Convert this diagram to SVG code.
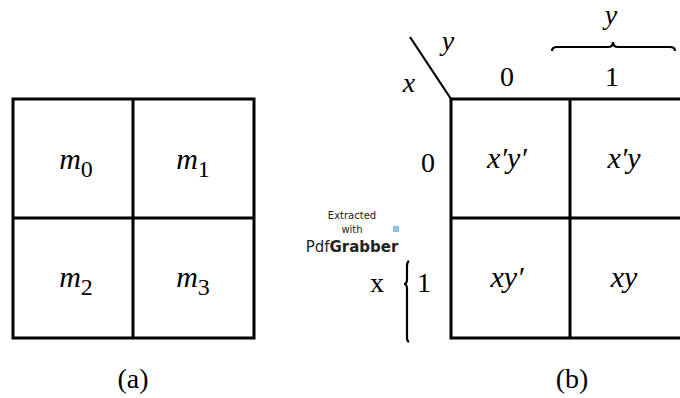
<svg xmlns="http://www.w3.org/2000/svg" width="680" height="398" viewBox="0 0 680 398">
<style>
.ln{stroke:#000;stroke-width:3;fill:none}
.thin{stroke:#000;stroke-width:2.2;fill:none}
.t{font-family:"Liberation Serif","Times New Roman",serif;fill:#000}
.i{font-style:italic}
.c{font-size:30px;text-anchor:middle}
.l{font-size:28px;text-anchor:middle}
.sub{font-size:24px;font-style:normal}
.wm{font-family:"DejaVu Sans",sans-serif;fill:#222}
</style>
<rect width="680" height="398" fill="#fff"/>
<g id="mapA">
<rect class="ln" x="13" y="99" width="241" height="239"/>
<line class="ln" x1="133" y1="99" x2="133" y2="338"/>
<line class="ln" x1="13" y1="218" x2="254" y2="218"/>
<g id="m0"><text class="t c" x="76" y="169"><tspan class="i">m</tspan><tspan class="sub" dy="8">0</tspan></text></g>
<g id="m1"><text class="t c" x="193" y="169"><tspan class="i">m</tspan><tspan class="sub" dy="8">1</tspan></text></g>
<g id="m2"><text class="t c" x="76" y="287"><tspan class="i">m</tspan><tspan class="sub" dy="8">2</tspan></text></g>
<g id="m3"><text class="t c" x="193" y="287"><tspan class="i">m</tspan><tspan class="sub" dy="8">3</tspan></text></g>
<text class="t l" x="133" y="388">(a)</text>
</g>
<g id="mapB">
<rect class="ln" x="451" y="99" width="250" height="239"/>
<line class="ln" x1="570" y1="99" x2="570" y2="338"/>
<line class="ln" x1="451" y1="218" x2="690" y2="218"/>
<g id="c00"><text class="t c i" x="507" y="168">x′y′</text></g>
<g id="c01"><text class="t c i" x="624" y="168">x′y</text></g>
<g id="c10"><text class="t c i" x="507" y="287">xy′</text></g>
<g id="c11"><text class="t c i" x="624" y="287">xy</text></g>
<text class="t l" x="572" y="388">(b)</text>
</g>
<g id="labels">
<line class="thin" x1="410" y1="37" x2="451" y2="99"/>
<text class="t i l" x="448" y="50">y</text>
<text class="t i l" x="409" y="92">x</text>
<text class="t l" x="507" y="86">0</text>
<text class="t l" x="612" y="86">1</text>
<path class="thin" d="M552,51 Q552,47 557,47 L608,47 Q613,47 613,42 Q613,47 618,47 L670,47 Q675,47 675,51"/>
<text class="t i l" x="611" y="24">y</text>
<text class="t l" x="428" y="172">0</text>
<text class="t l" x="424" y="292">1</text>
<text class="t l" x="377" y="292">x</text>
<path class="thin" d="M409,261 Q407,262 407,266 L407,279 Q407,284 404,284 Q407,284 407,289 L407,338 Q407,341 409,342"/>
</g>
<g id="watermark">
<text class="wm" x="352" y="219" font-size="10" text-anchor="middle">Extracted</text>
<text class="wm" x="352" y="233" font-size="10" text-anchor="middle">with</text>
<text class="wm" x="352" y="252" font-size="15" text-anchor="middle">Pdf<tspan font-weight="bold">Grabber</tspan></text>
<rect x="393" y="226" width="6" height="6" fill="#8ec0e8"/>
</g>
</svg>
